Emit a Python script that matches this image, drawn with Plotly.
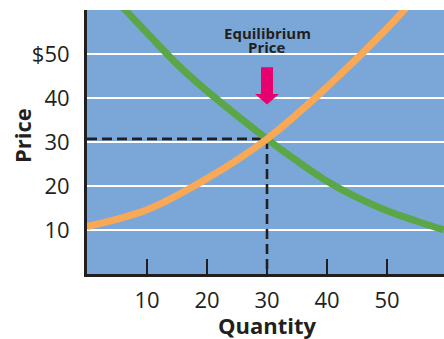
import plotly.graph_objects as go

# ---- data ----
supply_q = [0, 10, 20, 30, 40, 50, 55]
supply_p = [10.8, 14.6, 21.7, 30.7, 42.5, 55.8, 63.3]

demand_q = [5, 10, 15, 20, 30, 35, 40, 45, 50, 55, 59.5]
demand_p = [62.0, 54.8, 47.7, 41.6, 30.7, 25.7, 21.1, 17.4, 14.4, 12.0, 10.0]

eq_q = 30
eq_p = 30.7

x_ticks = [10, 20, 30, 40, 50]
x_ticktext = ["10", "20", "30", "40", "50"]
y_ticks = [10, 20, 30, 40, 50]
y_ticktext = ["10", "20", "30", "40", "$50"]

# ---- style ----
BG = "#7BA7D8"
GREEN = "#5BA646"
ORANGE = "#F9A956"
MAGENTA = "#E8006E"
DARK = "#231F20"
FONT = "Open Sans"

fig = go.Figure()

# equilibrium guide lines
fig.add_trace(go.Scatter(x=[0, eq_q], y=[eq_p, eq_p], mode="lines",
                         line=dict(color=DARK, width=2.6, dash="10px,5px"),
                         hoverinfo="skip"))
fig.add_trace(go.Scatter(x=[eq_q, eq_q], y=[eq_p, 0], mode="lines",
                         line=dict(color=DARK, width=2.6, dash="10px,5px"),
                         hoverinfo="skip"))

# demand and supply curves
fig.add_trace(go.Scatter(x=demand_q, y=demand_p, mode="lines",
                         line=dict(color=GREEN, width=7, shape="spline", smoothing=1.0),
                         name="Demand"))
fig.add_trace(go.Scatter(x=supply_q, y=supply_p, mode="lines",
                         line=dict(color=ORANGE, width=7, shape="spline", smoothing=1.0),
                         name="Supply"))

# block arrow pointing at the equilibrium price
shaft_hw, head_hw = 1.0, 2.0
top_p, base_p, tip_p = 47.0, 40.9, 38.5
path = (f"M {eq_q-shaft_hw},{top_p} L {eq_q+shaft_hw},{top_p} "
        f"L {eq_q+shaft_hw},{base_p} L {eq_q+head_hw},{base_p} "
        f"L {eq_q},{tip_p} L {eq_q-head_hw},{base_p} "
        f"L {eq_q-shaft_hw},{base_p} Z")
fig.add_shape(type="path", path=path, xref="x", yref="y",
              fillcolor=MAGENTA, line=dict(width=0), layer="above")

annotations = [
    dict(text="<b>Equilibrium</b>", x=eq_q, y=(274.3 - 33.5) / 264, xref="x", yref="paper",
         showarrow=False, font=dict(family=FONT, size=15, color=DARK),
         xanchor="center", yanchor="middle"),
    dict(text="<b>Price</b>", x=eq_q, y=(274.3 - 47.5) / 264, xref="x", yref="paper",
         showarrow=False, font=dict(family=FONT, size=15, color=DARK),
         xanchor="center", yanchor="middle"),
    dict(text="<b>Quantity</b>", x=eq_q, y=-(325.5 - 274.3) / 264, xref="x", yref="paper",
         showarrow=False, font=dict(family=FONT, size=22, color=DARK),
         xanchor="center", yanchor="middle"),
    dict(text="<b>Price</b>", x=(21 - 86.7) / 357, y=(274.3 - 136) / 264,
         xref="paper", yref="paper", textangle=-90,
         showarrow=False, font=dict(family=FONT, size=22, color=DARK),
         xanchor="center", yanchor="middle"),
]

fig.update_layout(
    width=444, height=339,
    margin=dict(l=87, r=0, t=10, b=65, pad=0),
    paper_bgcolor="white",
    plot_bgcolor=BG,
    showlegend=False,
    font=dict(family=FONT, color=DARK),
    annotations=annotations,
)

fig.update_xaxes(
    range=[0, 59.5], tickvals=x_ticks, ticktext=x_ticktext,
    ticks="inside", ticklen=15, tickwidth=2.2, tickcolor=DARK,
    showgrid=False, zeroline=False,
    showline=True, linewidth=3, linecolor=DARK,
    tickfont=dict(family=FONT, size=22, color=DARK),
    ticklabelstandoff=5,
)
fig.update_yaxes(
    range=[0, 60], tickvals=y_ticks, ticktext=y_ticktext,
    ticks="", showgrid=True, gridcolor="white", gridwidth=2,
    zeroline=False,
    showline=True, linewidth=3, linecolor=DARK,
    tickfont=dict(family=FONT, size=22, color=DARK),
    ticklabelstandoff=10,
)

fig.write_html("out.html")
